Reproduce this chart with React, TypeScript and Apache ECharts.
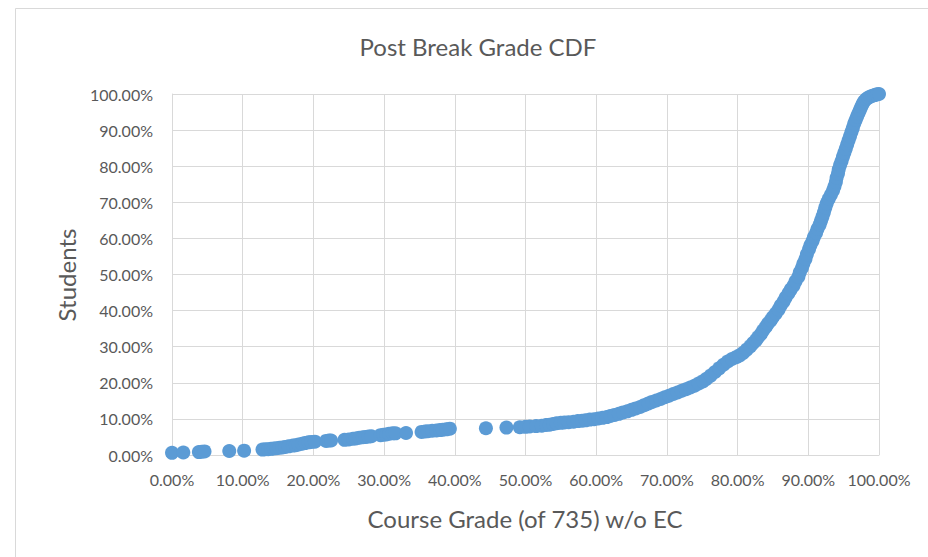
import React, { useEffect, useRef } from "react";
import * as echarts from "echarts";

const chartTitle = "Post Break Grade CDF";
const xAxisTitle = "Course Grade (of 735) w/o EC";
const yAxisTitle = "Students";

// [course grade %, cumulative students %]
const gradeCdfPoints: [number, number][] = [
  [0.0, 0.6], [1.6, 0.7], [3.8, 0.8], [4.2, 0.9], [4.6, 1.0], [8.1, 1.1], [10.2, 1.2],
  [12.8, 1.5], [13.2, 1.6], [13.6, 1.6], [14.0, 1.7], [14.4, 1.8], [14.8, 1.9], [15.2, 2.0],
  [15.6, 2.1], [16.0, 2.2], [16.5, 2.4], [17.1, 2.6], [17.5, 2.7], [17.9, 2.9], [18.4, 3.1],
  [18.8, 3.3], [19.3, 3.5], [19.7, 3.6], [20.2, 3.7],
  [21.8, 3.9], [22.2, 4.0], [22.5, 4.0], [24.4, 4.2], [25.0, 4.3], [25.6, 4.5], [26.0, 4.6],
  [26.5, 4.8], [27.0, 4.9], [27.4, 5.0], [27.8, 5.1], [28.2, 5.2], [29.5, 5.5], [29.9, 5.6],
  [30.3, 5.7], [30.7, 5.9], [31.2, 6.0], [31.6, 6.0], [33.1, 6.1], [35.3, 6.4], [35.8, 6.5],
  [36.2, 6.6], [36.8, 6.7], [37.4, 6.8], [37.9, 6.9], [38.3, 7.0], [38.8, 7.1], [39.3, 7.3],
  [44.4, 7.4], [47.3, 7.6], [49.2, 7.7], [50.0, 7.8], [50.6, 7.9], [51.5, 8.0], [52.3, 8.1],
  [52.9, 8.3], [53.4, 8.4], [53.9, 8.6], [54.4, 8.8], [55.0, 8.9], [55.5, 9.0], [56.1, 9.1],
  [56.8, 9.2], [57.4, 9.4], [58.0, 9.5], [58.5, 9.6], [59.1, 9.8], [59.7, 9.9], [60.3, 10.1],
  [60.9, 10.3], [61.5, 10.5], [62.0, 10.8], [62.6, 11.1], [63.2, 11.4], [63.8, 11.8],
  [64.4, 12.1], [65.0, 12.5], [65.6, 12.9], [66.2, 13.3], [66.8, 13.8], [67.4, 14.3],
  [67.9, 14.7], [68.5, 15.1], [69.1, 15.5], [69.7, 16.0], [70.3, 16.4], [70.9, 16.9],
  [71.5, 17.3], [72.1, 17.8], [72.7, 18.2], [73.3, 18.7], [73.9, 19.2], [74.5, 19.8],
  [75.1, 20.4], [75.6, 21.1], [76.2, 22.0], [76.8, 23.0], [77.4, 24.0], [78.0, 25.0],
  [78.6, 25.9], [79.2, 26.6], [79.8, 27.1], [80.3, 27.6], [80.8, 28.3], [81.3, 29.2],
  [81.8, 30.1], [82.2, 31.0], [82.6, 31.8], [82.9, 32.6], [83.3, 33.5], [83.6, 34.5],
  [84.0, 35.5], [84.3, 36.4], [84.7, 37.3], [85.0, 38.2], [85.4, 39.2], [85.8, 40.3],
  [86.1, 41.4], [86.5, 42.5], [86.8, 43.6], [87.2, 44.8], [87.5, 45.8], [87.9, 46.9],
  [88.2, 48.1], [88.6, 49.4], [88.8, 50.6], [89.1, 51.8], [89.3, 53.0], [89.6, 54.3],
  [89.8, 55.6], [90.1, 57.0], [90.3, 58.1], [90.6, 59.3], [90.8, 60.4], [91.1, 61.5],
  [91.3, 62.6], [91.6, 63.8], [91.8, 64.9], [92.0, 66.0], [92.2, 67.2], [92.4, 68.5],
  [92.6, 69.7], [92.9, 71.0], [93.2, 72.1], [93.5, 73.3], [93.7, 74.4], [93.9, 75.6],
  [94.0, 76.8], [94.2, 78.0], [94.3, 79.1], [94.5, 80.3], [94.7, 81.4], [94.9, 82.6],
  [95.1, 83.7], [95.3, 84.8], [95.5, 86.0], [95.7, 87.2], [95.9, 88.3], [96.1, 89.5],
  [96.3, 90.6], [96.5, 91.8], [96.7, 92.8], [96.9, 93.8], [97.1, 94.7], [97.3, 95.6],
  [97.5, 96.5], [97.7, 97.3], [97.9, 98.0], [98.2, 98.6], [98.5, 99.0], [98.8, 99.3],
  [99.1, 99.5], [99.4, 99.7], [99.7, 99.9], [100.0, 100.0],
];

const axisTicks: number[] = [0, 10, 20, 30, 40, 50, 60, 70, 80, 90, 100];

const FONT = "Lato, 'Open Sans', sans-serif";
const TEXT_COLOR = "#595959";
const GRID_COLOR = "#d9d9d9";

export default function App() {
  const ref = useRef<HTMLDivElement>(null);

  useEffect(() => {
    if (!ref.current) return;
    const chart = echarts.init(ref.current, null, { renderer: "svg" });
    const fmt = (v: number) => `${v.toFixed(2)}%`;
    chart.setOption({
      animation: false,
      backgroundColor: "#ffffff",
      grid: { left: 172, right: 49, top: 94, bottom: 102, containLabel: false },
      xAxis: {
        type: "value",
        min: axisTicks[0],
        max: axisTicks[axisTicks.length - 1],
        interval: 10,
        axisLine: { show: true, lineStyle: { color: GRID_COLOR } },
        axisTick: { show: false },
        splitLine: { show: true, lineStyle: { color: GRID_COLOR, width: 1 } },
        axisLabel: { formatter: fmt, color: TEXT_COLOR, fontFamily: FONT, fontSize: 16, margin: 16 },
      },
      yAxis: {
        type: "value",
        min: axisTicks[0],
        max: axisTicks[axisTicks.length - 1],
        interval: 10,
        axisLine: { show: true, lineStyle: { color: GRID_COLOR } },
        axisTick: { show: false },
        splitLine: { show: true, lineStyle: { color: GRID_COLOR, width: 1 } },
        axisLabel: { formatter: fmt, color: TEXT_COLOR, fontFamily: FONT, fontSize: 16, margin: 19 },
      },
      series: [
        {
          type: "scatter",
          data: gradeCdfPoints,
          symbol: "circle",
          symbolSize: 14,
          itemStyle: { color: "#5B9BD5", opacity: 1 },
        },
      ],
      graphic: [
        {
          type: "rect",
          shape: { x: 15.5, y: 8.5, width: 1000, height: 1000 },
          style: { fill: "none", stroke: GRID_COLOR, lineWidth: 1 },
          silent: true,
        },
        {
          type: "text",
          x: 478,
          y: 46,
          style: {
            text: chartTitle,
            fill: TEXT_COLOR,
            font: `24px ${FONT}`,
            textAlign: "center",
            textVerticalAlign: "middle",
          },
        },
        {
          type: "text",
          x: 525,
          y: 518,
          style: {
            text: xAxisTitle,
            fill: TEXT_COLOR,
            font: `24px ${FONT}`,
            textAlign: "center",
            textVerticalAlign: "middle",
          },
        },
        {
          type: "text",
          x: 66,
          y: 275,
          rotation: Math.PI / 2,
          style: {
            text: yAxisTitle,
            fill: TEXT_COLOR,
            font: `24px ${FONT}`,
            textAlign: "center",
            textVerticalAlign: "middle",
          },
        },
      ],
    });
    return () => chart.dispose();
  }, []);

  return (
    <div
      ref={ref}
      style={{ position: "fixed", left: 0, top: 0, width: 928, height: 557, background: "#fff" }}
    />
  );
}
